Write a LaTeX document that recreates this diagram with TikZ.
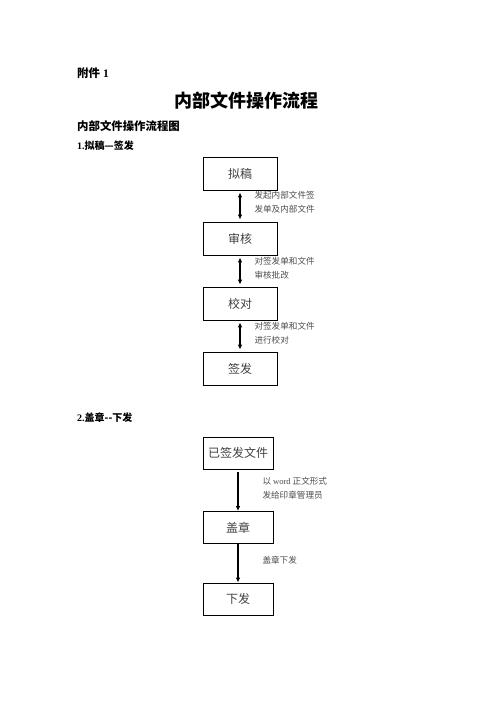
\documentclass[tikz,border=0pt]{standalone}
\usepackage{fontspec}
\usetikzlibrary{arrows.meta}
\setmainfont{Liberation Serif}
\newfontfamily\cjk{Noto Sans CJK SC}

\begin{document}
\begin{tikzpicture}[x=1pt, y=-1pt,
    box/.style={draw, line width=0.8pt, minimum width=74pt, minimum height=33pt, font=\cjk\fontsize{12}{14}\selectfont, text=black!75},
    note/.style={anchor=west, align=left, font=\cjk\fontsize{8.6}{14}\selectfont, text=black!70},
    head/.style={anchor=west, inner sep=0pt, font=\bfseries},
    link/.style={line width=1.2pt, -{Latex[length=5pt,width=4.5pt]}},
    twoway/.style={line width=1.4pt, {Latex[length=5pt,width=4.5pt]}-{Latex[length=5pt,width=4.5pt]}, shorten <=2pt, shorten >=2pt}]

    % Page size
    \def\pagew{496}
    \def\pageh{702}
    \useasboundingbox (0, 0) rectangle (\pagew, \pageh);

    % Headings
    \node[head, font=\bfseries\fontsize{11.5}{13}\selectfont] (annex) at (77, 73) {{\cjk 附件} 1};
    \node[font=\cjk\bfseries\fontsize{18}{20}\selectfont] (title) at (246.5, 101) {内部文件操作流程};
    \node[head, font=\cjk\bfseries\fontsize{11.4}{13}\selectfont] (subtitle) at (77, 126) {内部文件操作流程图};
    \node[head, font=\bfseries\fontsize{10}{12}\selectfont] (part1) at (77, 146) {1.{\cjk 拟稿—签发}};
    \node[head, font=\bfseries\fontsize{10}{12}\selectfont] (part2) at (77, 418) {2.{\cjk 盖章--下发}};

    % Part 1: boxes
    \def\xa{240}
    \node[box] (draft) at (\xa, 173.5) {拟稿};
    \node[box] (review) at (\xa, 238.5) {审核};
    \node[box] (check) at (\xa, 303.5) {校对};
    \node[box] (sign) at (\xa, 368.5) {签发};

    % Part 1: arrows and notes
    \draw[twoway] (draft.south) -- (review.north);
    \draw[twoway] (review.south) -- (check.north);
    \draw[twoway] (check.south) -- (sign.north);
    \node[note] (n1) at (251, 202) {发起内部文件签\\发单及内部文件};
    \node[note] (n2) at (251, 268) {对签发单和文件\\审核批改};
    \node[note] (n3) at (251, 333) {对签发单和文件\\进行校对};

    % Part 2: boxes
    \def\xb{238}
    \node[box, minimum width=70pt, minimum height=32pt] (signed) at (\xb, 453) {已签发文件};
    \node[box, minimum width=70pt, minimum height=32pt] (seal) at (\xb, 527.5) {盖章};
    \node[box, minimum width=70pt, minimum height=32pt] (issue) at (\xb, 599) {下发};

    % Part 2: arrows and notes
    \draw[link, shorten <=3pt] (signed.south) -- (seal.north);
    \draw[link] (seal.south) -- (issue.north);
    \node[note] (n4) at (259, 488.5) {以 {\rmfamily word} 正文形式\\发给印章管理员};
    \node[note] (n5) at (259, 560) {盖章下发};

\end{tikzpicture}
\end{document}
